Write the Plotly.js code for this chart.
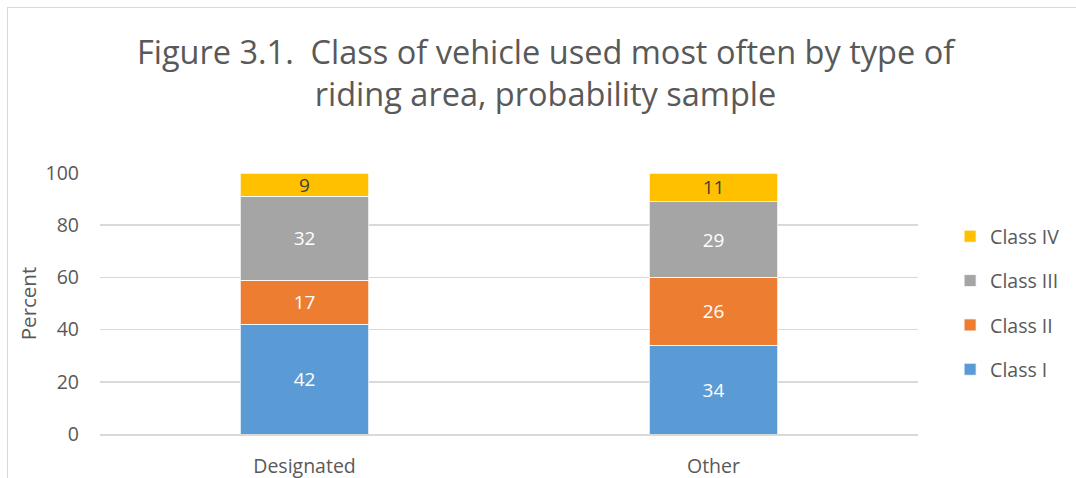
<!DOCTYPE html>
<html>
<head>
<meta charset="utf-8">
<script src="https://cdn.plot.ly/plotly-3.0.1.min.js"></script>
<style>
html,body{margin:0;padding:0;background:#fff;}
#wrap{position:relative;width:1076px;height:478px;}
#chart{width:1076px;height:478px;}
#frame{position:absolute;left:7px;top:7px;width:1080px;height:480px;border-left:1px solid #d9d9d9;border-top:1px solid #d9d9d9;pointer-events:none;}
</style>
</head>
<body>
<div id="wrap"><div id="chart"></div><div id="frame"></div></div>
<script>
const categories = ["Designated", "Other"];
const seriesNames = ["Class I", "Class II", "Class III", "Class IV"];
const classI = [42, 34];
const classII = [17, 26];
const classIII = [32, 29];
const classIV = [9, 11];
const yTicks = [0, 20, 40, 60, 80, 100];

const colors = ["#5B9BD5", "#ED7D31", "#A5A5A5", "#FFC000"];
const textColors = ["#ffffff", "#ffffff", "#ffffff", "#404040"];
const values = [classI, classII, classIII, classIV];
const FONT = "Open Sans, Liberation Sans, sans-serif";

const traces = seriesNames.map((name, i) => ({
  type: "bar",
  name: name,
  legendgroup: "g" + i,
  legendrank: 10 - i,
  x: categories,
  y: values[i],
  text: values[i].map(String),
  texttemplate: "%{text}",
  textposition: "inside",
  insidetextanchor: "middle",
  constraintext: "none",
  textangle: 0,
  textfont: {family: FONT, size: 19, color: textColors[i]},
  marker: {color: colors[i], line: {color: "#ffffff", width: 0.75}},
  width: 0.313,
  hoverinfo: "none"
}));

const layout = {
  width: 1076,
  height: 478,
  barmode: "stack",
  paper_bgcolor: "#ffffff",
  plot_bgcolor: "#ffffff",
  margin: {l: 100, r: 158, t: 173, b: 44, autoexpand: false},
  font: {family: FONT, color: "#595959"},
  title: {
    text: "Figure 3.1.  Class of vehicle used most often by type of<br>riding area, probability sample",
    font: {family: FONT, size: 32.5, color: "#595959"},
    x: 0.507, xref: "container", xanchor: "center",
    y: 0.867, yref: "container", yanchor: "top"
  },
  xaxis: {
    type: "category",
    tickfont: {family: FONT, size: 19.5, color: "#595959"},
    showline: true, linecolor: "#d9d9d9", linewidth: 1.5,
    showgrid: false, zeroline: false, ticks: "",
    ticklabelstandoff: 14
  },
  yaxis: {
    range: [0, 100],
    tickvals: yTicks,
    ticktext: yTicks.map(String),
    tickfont: {family: FONT, size: 19.5, color: "#595959"},
    showgrid: true, gridcolor: "#d9d9d9", gridwidth: 1.5,
    zeroline: false, showline: false, ticks: "",
    ticklabelstandoff: 20,
    title: {text: "Percent", font: {family: FONT, size: 20.5, color: "#595959"}, standoff: 3}
  },
  legend: {
    x: 0.883, xref: "container", xanchor: "left",
    y: 0.366, yref: "container", yanchor: "middle",
    font: {family: FONT, size: 19.5, color: "#595959"},
    traceorder: "grouped",
    itemwidth: 30,
    tracegroupgap: 16
  },
  showlegend: true
};

Plotly.newPlot("chart", traces, layout, {displayModeBar: false, staticPlot: true});
</script>
</body>
</html>
